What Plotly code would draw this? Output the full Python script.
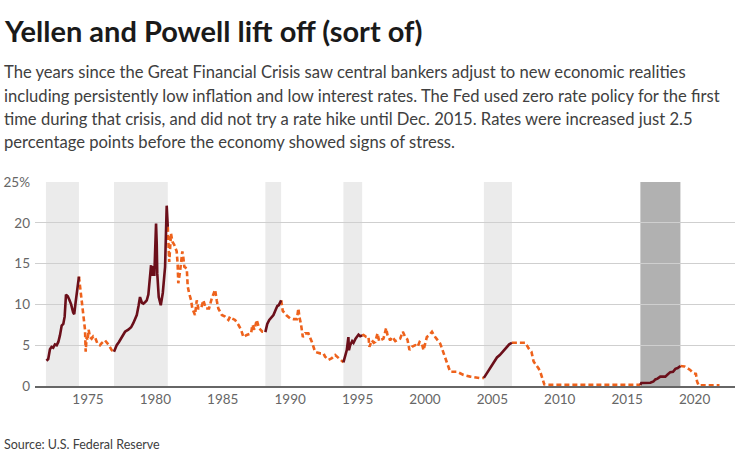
import plotly.graph_objects as go

# ---- data ----
years = [
    1971.92, 1972.05, 1972.18, 1972.30, 1972.42, 1972.55, 1972.68, 1972.80, 1972.92, 1973.05,
    1973.17, 1973.27, 1973.37, 1973.50, 1973.61, 1973.75, 1973.90, 1973.98, 1974.08, 1974.18, 1974.33,
    1974.41, 1974.55, 1974.61, 1974.73, 1974.78, 1974.83, 1974.90, 1974.97, 1975.05, 1975.15,
    1975.27, 1975.40, 1975.52, 1975.70, 1975.89, 1976.05, 1976.26, 1976.51, 1976.76, 1976.93,
    1977.13, 1977.30, 1977.50, 1977.75, 1977.99, 1978.20, 1978.36, 1978.62, 1978.75, 1978.86,
    1979.00, 1979.11, 1979.25, 1979.36, 1979.48, 1979.55, 1979.68, 1979.72, 1979.77, 1979.85,
    1979.92, 1980.05, 1980.10, 1980.14, 1980.25, 1980.40, 1980.55, 1980.64, 1980.72, 1980.84, 1980.92,
    1980.97, 1981.03, 1981.16, 1981.26, 1981.40, 1981.58, 1981.65, 1981.70, 1981.83, 1982.00,
    1982.07, 1982.15, 1982.33, 1982.40, 1982.50, 1982.65, 1982.74, 1982.94, 1983.07, 1983.19,
    1983.39, 1983.56, 1983.74, 1983.98, 1984.18, 1984.43, 1984.55, 1984.67, 1984.93, 1985.17,
    1985.42, 1985.54, 1985.67, 1985.91, 1986.16, 1986.36, 1986.53, 1986.78, 1987.10, 1987.20,
    1987.35, 1987.52, 1987.69, 1987.94, 1988.16,
    1988.30, 1988.45, 1988.60, 1988.76, 1988.94, 1989.05, 1989.15, 1989.25, 1989.33,
    1989.45, 1989.70, 1989.99, 1990.24, 1990.50, 1990.61, 1990.68, 1990.80, 1990.94, 1991.11,
    1991.35, 1991.61, 1991.85, 1992.00, 1992.22, 1992.47, 1992.59, 1992.84, 1993.09, 1993.34,
    1993.58, 1993.83, 1993.95,
    1994.08, 1994.20, 1994.32, 1994.36, 1994.45, 1994.60, 1994.70, 1994.85, 1995.07, 1995.20, 1995.34,
    1995.44, 1995.65, 1995.81, 1995.88, 1996.06, 1996.20, 1996.31, 1996.48, 1996.60, 1996.68,
    1996.92, 1997.12, 1997.22, 1997.42, 1997.55, 1997.67, 1997.80, 1997.92, 1998.16, 1998.36,
    1998.53, 1998.70, 1998.78, 1998.85, 1999.03, 1999.28, 1999.45, 1999.60, 1999.77, 1999.89,
    2000.14, 2000.30, 2000.52, 2000.76, 2001.13, 2001.38, 2001.63, 2001.87, 2002.37, 2002.86,
    2003.36, 2003.86, 2004.10, 2004.37,
    2004.60, 2004.80, 2004.97, 2005.20, 2005.34, 2005.55, 2005.71, 2005.90, 2006.08, 2006.25, 2006.45,
    2006.70, 2007.07, 2007.45, 2007.69, 2007.90, 2008.06, 2008.25, 2008.43, 2008.60, 2008.75,
    2008.85, 2009.05, 2010.00, 2011.00, 2012.00, 2013.00, 2014.00, 2015.00, 2015.98,
    2016.05, 2016.72, 2016.95, 2017.09, 2017.25, 2017.46, 2017.83, 2018.00, 2018.20, 2018.40,
    2018.58, 2018.75, 2018.95,
    2019.07, 2019.25, 2019.44, 2019.65, 2019.93, 2020.10, 2020.18, 2020.30, 2021.00, 2021.85,
]
rates = [
    3.1, 3.3, 4.5, 4.8, 4.7, 5.1, 5.0, 5.4, 6.2, 7.4,
    7.6, 8.5, 11.2, 11.0, 10.6, 10.0, 9.0, 8.8, 10.2, 11.3, 13.4,
    12.2, 10.5, 9.7, 8.1, 6.9, 4.2, 6.0, 5.6, 6.9, 6.0,
    5.8, 6.1, 6.0, 5.2, 5.0, 5.3, 5.6, 5.1, 4.4, 4.2,
    5.0, 5.4, 6.0, 6.65, 6.9, 7.2, 7.7, 8.7, 9.8, 10.9,
    10.2, 10.1, 10.3, 10.5, 11.2, 12.2, 14.8, 13.5, 14.2, 14.7,
    13.5, 19.9, 17.5, 13.8, 10.9, 9.9, 11.4, 13.4, 14.6, 22.1, 19.5,
    17.9, 15.2, 18.7, 17.7, 17.3, 16.5, 15.0, 12.6, 14.0, 16.5,
    15.8, 14.6, 14.4, 12.2, 11.4, 10.5, 9.5, 8.7, 10.5, 9.5,
    9.5, 10.5, 9.5, 9.5, 10.7, 11.8, 10.5, 9.5, 8.7, 8.5,
    8.1, 8.5, 8.3, 8.1, 7.5, 6.9, 6.0, 6.25, 6.45, 7.5,
    6.9, 8.1, 7.1, 6.65, 6.6,
    7.6, 8.1, 8.4, 8.7, 9.4, 9.8, 9.9, 10.3, 10.5,
    9.2, 8.7, 8.3, 8.2, 8.2, 9.5, 8.5, 7.6, 6.0, 6.45,
    6.45, 5.4, 4.2, 4.1, 4.0, 4.0, 3.6, 3.2, 3.4, 3.8,
    3.4, 3.0, 2.9,
    3.8, 4.4, 6.0, 4.4, 5.0, 5.5, 5.3, 5.8, 6.3, 6.1, 6.2,
    6.25, 6.0, 6.0, 4.8, 5.6, 5.3, 5.4, 6.45, 5.5, 5.6,
    5.8, 7.1, 6.25, 5.6, 6.0, 5.8, 5.5, 5.6, 5.8, 6.65,
    6.0, 5.7, 5.0, 4.4, 4.8, 5.0, 4.8, 5.4, 5.2, 4.4,
    6.0, 6.2, 6.65, 6.0, 5.2, 4.0, 2.8, 1.75, 1.75, 1.35,
    1.15, 1.05, 0.95, 1.0,
    1.6, 2.1, 2.6, 3.1, 3.5, 3.8, 4.1, 4.5, 4.9, 5.1, 5.3,
    5.3, 5.3, 5.3, 4.6, 4.2, 3.0, 2.6, 2.15, 1.5, 0.5,
    0.2, 0.15, 0.15, 0.1, 0.15, 0.1, 0.1, 0.12, 0.15,
    0.37, 0.4, 0.55, 0.8, 0.9, 1.15, 1.15, 1.4, 1.7, 1.75,
    2.1, 2.2, 2.45,
    2.45, 2.4, 2.2, 2.0, 1.55, 1.5, 0.6, 0.08, 0.08, 0.08,
]

hike_starts = [1971.88, 1976.93, 1988.16, 1993.95, 2004.37, 2015.98]
hike_ends = [1974.33, 1980.92, 1989.33, 1995.34, 2006.45, 2018.95]

x_ticks = [1975, 1980, 1985, 1990, 1995, 2000, 2005, 2010, 2015, 2020]
y_ticks = [0, 5, 10, 15, 20, 25]
y_ticktext = ["0", "5", "10", "15", "20", "25%"]

DARK = "#6b0f1a"
ORANGE = "#ee621c"

# ---- split into hiking (solid) and other (dashed) ----
eps = 1e-6
def in_hike(t):
    return any(s - eps <= t <= e + eps for s, e in zip(hike_starts, hike_ends))

flags = [in_hike(t) for t in years]
n = len(years)
solid_y = [r if f else None for r, f in zip(rates, flags)]
dash_y = []
for i in range(n):
    keep = (not flags[i]) or (i > 0 and not flags[i - 1]) or (i < n - 1 and not flags[i + 1])
    dash_y.append(rates[i] if keep else None)

fig = go.Figure()
fig.add_trace(go.Scatter(x=years, y=dash_y, mode="lines", connectgaps=False,
                         line=dict(color=ORANGE, width=2.6, dash="5px,3px"), hoverinfo="skip"))
fig.add_trace(go.Scatter(x=years, y=solid_y, mode="lines", connectgaps=False,
                         line=dict(color=DARK, width=2.6), hoverinfo="skip"))

for i, (s, e) in enumerate(zip(hike_starts, hike_ends)):
    fig.add_shape(type="rect", xref="x", yref="paper", x0=s, x1=e, y0=0, y1=1,
                  fillcolor="#b1b1b1" if i == len(hike_starts) - 1 else "#ebebeb",
                  line=dict(width=0), layer="below")

H = 204.0
def py(p):
    return (386 - p) / H
PX0 = -33 / 700.0

FONT = "Source Sans Pro, Lato, sans-serif"
fig.add_annotation(text="<b>Yellen and Powell lift off (sort of)</b>", xref="paper", yref="paper",
                   x=PX0, y=py(30), xanchor="left", yanchor="middle", showarrow=False,
                   font=dict(family=FONT, size=29, color="#1a1a1a"))
sub_lines = [
    "The years since the Great Financial Crisis saw central bankers adjust to new economic realities",
    "including persistently low inflation and low interest rates. The Fed used zero rate policy for the first",
    "time during that crisis, and did not try a rate hike until Dec. 2015. Rates were increased just 2.5",
    "percentage points before the economy showed signs of stress.",
]
for txt, yy in zip(sub_lines, [72, 96, 119, 142]):
    fig.add_annotation(text=txt, xref="paper", yref="paper", x=PX0, y=py(yy),
                       xanchor="left", yanchor="middle", showarrow=False,
                       font=dict(family=FONT, size=16.6, color="#404040"))
fig.add_annotation(text="Source: U.S. Federal Reserve", xref="paper", yref="paper", x=PX0, y=py(444),
                   xanchor="left", yanchor="middle", showarrow=False,
                   font=dict(family=FONT, size=12.5, color="#404040"))

fig.update_layout(
    width=736, height=457,
    margin=dict(l=35, r=1, t=182, b=71),
    plot_bgcolor="white", paper_bgcolor="white",
    showlegend=False,
    font=dict(family=FONT, color="#666666", size=14),
    xaxis=dict(range=[1971.07, 2023.0], tickvals=x_ticks, ticktext=[str(v) for v in x_ticks],
               showgrid=False, zeroline=False, showline=True, linecolor="#666666", linewidth=2,
               ticks="", tickfont=dict(size=13.5, color="#666666")),
    yaxis=dict(range=[0, 25], tickvals=y_ticks, ticktext=y_ticktext, showgrid=True,
               gridcolor="#cfcfcf", gridwidth=1, zeroline=False, ticks="",
               ticklabelstandoff=4, tickfont=dict(size=13.5, color="#666666")),
)

fig.write_html("out.html", config={"displayModeBar": False},
               post_script="document.body.style.margin='0';document.body.style.padding='0';")
